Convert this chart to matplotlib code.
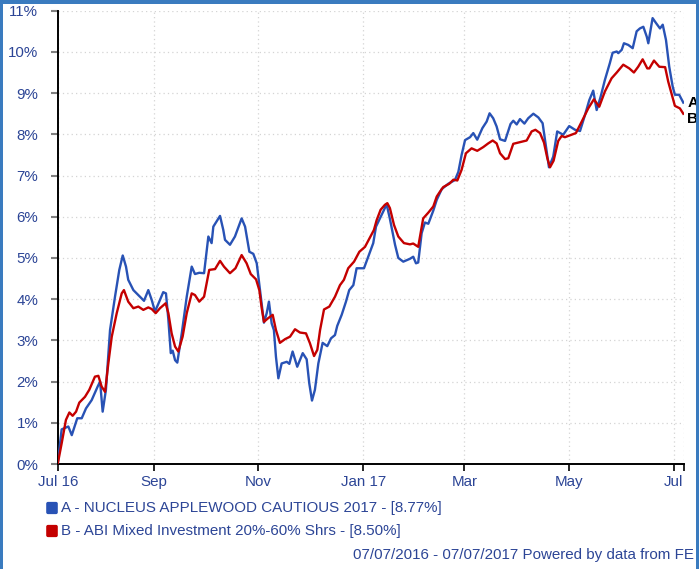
import numpy as np
import matplotlib
matplotlib.use("Agg")
import matplotlib.pyplot as plt
import matplotlib.dates as mdates
from matplotlib.patches import Rectangle, FancyBboxPatch
from datetime import datetime

# ---------------- data ----------------
start_date = datetime(2016, 7, 7)
end_date = datetime(2017, 7, 7)

# days since start date, cumulative performance (%)
a_days = [0, 2.3, 6.2, 8.2, 11.4, 14.0, 16.5, 19.8, 23.3, 24.7, 26.2, 28.1, 30.5, 33.4, 35.9,
          37.9, 39.8, 41.1, 44.1, 47.0, 50.3, 52.8, 54.8, 56.7, 59.2, 61.5, 63.1, 64.5, 65.9,
          67.0, 68.4, 69.7, 72.3, 75.2, 78.1, 80.0, 82.5, 85.3, 87.8, 89.7, 90.7, 94.6, 96.5,
          97.5, 100.4, 103.3, 107.2, 109.2, 111.7, 114.0, 116.0, 117.9, 120.2, 121.8, 123.1,
          124.7, 126.0, 127.2, 128.6, 130.5, 133.5, 135.0, 136.9, 139.6, 142.8, 145.1, 146.6,
          148.2, 149.9, 151.9, 154.4, 157.1, 159.3, 161.6, 162.9, 165.5, 168.0, 169.9, 172.3,
          174.2, 178.5, 181.0, 183.9, 185.5, 187.8, 191.7, 193.6, 196.6, 198.5, 201.4, 205.3,
          207.2, 208.8, 210.1, 212.1, 214.0, 216.0, 218.9, 220.9, 223.8, 227.6, 231.5, 233.5,
          235.4, 237.4, 240.3, 242.2, 244.5, 247.5, 250.0, 251.7, 253.8, 255.8, 257.8, 260.7,
          263.9, 265.5, 267.5, 269.4, 272.0, 274.2, 277.2, 280.1, 282.6, 284.0, 286.3, 288.8,
          291.1, 294.6, 298.1, 301.5, 304.4, 307.3, 309.8, 312.1, 314.1, 316.4, 318.9, 321.8,
          323.4, 325.8, 326.7, 328.7, 330.0, 332.5, 335.1, 337.4, 339.3, 341.3, 343.3, 344.2,
          345.8, 346.7, 348.7, 351.0, 352.6, 354.5, 356.4, 358.4, 359.7, 362.2, 364.6]
a_vals = [0.00, 0.84, 0.91, 0.70, 1.11, 1.11, 1.35, 1.55, 1.88, 2.00, 1.27, 1.80, 3.25, 4.06, 4.71,
          5.06, 4.79, 4.47, 4.22, 4.10, 3.96, 4.22, 3.98, 3.70, 3.94, 4.17, 4.14, 3.50, 2.69,
          2.75, 2.52, 2.46, 3.17, 4.06, 4.79, 4.61, 4.64, 4.63, 5.52, 5.36, 5.76, 6.02, 5.68,
          5.44, 5.32, 5.52, 5.96, 5.76, 5.15, 5.10, 4.87, 4.22, 3.43, 3.66, 3.94,
          3.41, 3.25, 2.60, 2.08, 2.44, 2.48, 2.43, 2.73, 2.36, 2.69, 2.54, 1.96,
          1.54, 1.80, 2.44, 2.94, 2.86, 3.05, 3.13, 3.35, 3.62, 3.94, 4.22, 4.34,
          4.75, 4.75, 5.03, 5.36, 5.76, 5.96, 6.30, 5.95, 5.32, 5.00, 4.91, 4.98,
          5.03, 4.87, 4.89, 5.60, 5.86, 5.83, 6.15, 6.41, 6.67, 6.80, 6.89, 7.09,
          7.50, 7.86, 7.93, 8.03, 7.87, 8.15, 8.31, 8.51, 8.39, 8.19, 7.88, 7.84,
          8.25, 8.33, 8.24, 8.37, 8.26, 8.39, 8.50, 8.41, 8.27, 7.86, 7.20, 7.46,
          8.07, 7.99, 8.20, 8.11, 8.08, 8.47, 8.83, 9.06, 8.59, 8.91, 9.32, 9.73,
          9.98, 10.01, 9.97, 10.05, 10.21, 10.17, 10.09, 10.50, 10.57, 10.61, 10.37, 10.21,
          10.61, 10.82, 10.70, 10.57, 10.66, 10.29, 9.64, 9.16, 8.96, 8.96, 8.77]

b_days = [0, 2.3, 4.8, 6.8, 8.7, 10.7, 12.6, 15.9, 18.4, 21.7, 23.7, 25.6, 27.6, 29.5, 31.5,
          34.4, 37.3, 38.6, 41.1, 44.1, 47.0, 49.9, 52.8, 54.8, 57.1, 59.6, 62.9, 64.5, 66.4,
          68.4, 70.3, 72.8, 75.2, 78.1, 80.0, 82.5, 85.3, 88.3, 91.7, 94.6, 96.9, 100.4, 103.6,
          107.2, 110.1, 112.5, 115.6, 117.5, 118.9, 120.2, 122.7, 125.3, 127.2, 129.5, 132.5,
          135.4, 138.3, 141.2, 144.7, 147.0, 149.4, 151.3, 152.9, 155.2, 158.3, 161.6, 164.5,
          166.8, 169.3, 172.7, 175.8, 179.1, 182.0, 184.3, 185.9, 188.2, 190.7, 192.1, 193.6,
          196.0, 198.5, 201.8, 205.3, 207.2, 210.1, 213.0, 216.0, 218.9, 220.9, 222.8, 224.7,
          228.2, 230.6, 232.9, 235.4, 237.9, 241.2, 244.5, 248.0, 250.9, 253.5, 255.8, 257.8,
          260.7, 262.6, 265.5, 269.4, 273.3, 276.2, 278.4, 281.1, 283.4, 285.3, 286.9, 289.0,
          291.7, 293.7, 295.6, 299.5, 302.0, 305.4, 309.2, 312.5, 315.6, 318.9, 322.8, 325.8,
          329.6, 333.1, 335.8, 338.3, 340.9, 343.6, 344.8, 347.5, 350.6, 354.0, 355.8, 358.4,
          359.7, 362.6, 364.6]
b_vals = [0.00, 0.50, 1.07, 1.25, 1.17, 1.27, 1.49, 1.63, 1.80, 2.12, 2.14, 1.88, 1.75, 2.44, 3.09,
          3.66, 4.14, 4.22, 3.94, 3.78, 3.82, 3.74, 3.80, 3.76, 3.66, 3.78, 3.90, 3.66, 3.17,
          2.85, 2.73, 3.09, 3.66, 4.14, 4.10, 3.94, 4.06, 4.71, 4.73, 4.93, 4.79, 4.63, 4.75,
          5.07, 4.87, 4.61, 4.48, 4.22, 3.78, 3.45, 3.54, 3.62, 3.25, 2.94, 3.03,
          3.09, 3.27, 3.19, 3.17, 2.93, 2.62, 2.77, 3.25, 3.75, 3.82, 4.06, 4.34,
          4.47, 4.75, 4.91, 5.15, 5.27, 5.50, 5.68, 5.92, 6.17, 6.29, 6.33, 6.21,
          5.80, 5.52, 5.36, 5.33, 5.35, 5.27, 5.96, 6.10, 6.25, 6.49, 6.61, 6.72,
          6.80, 6.90, 6.88, 7.14, 7.54, 7.66, 7.60, 7.69, 7.78, 7.85, 7.78, 7.54,
          7.40, 7.42, 7.77, 7.81, 7.85, 8.07, 8.11, 8.03, 7.80, 7.43, 7.20, 7.36,
          7.84, 7.96, 7.93, 7.99, 8.03, 8.31, 8.63, 8.85, 8.67, 9.04, 9.36, 9.50,
          9.69, 9.60, 9.50, 9.64, 9.82, 9.60, 9.60, 9.79, 9.64, 9.63, 9.28, 8.88,
          8.69, 8.63, 8.50]

series_names = ["A - NUCLEUS APPLEWOOD CAUTIOUS 2017 - [8.77%]",
                "B - ABI Mixed Investment 20%-60% Shrs - [8.50%]"]
end_labels = ["A", "B"]
x_tick_dates = [datetime(2016, 7, 7), datetime(2016, 9, 1), datetime(2016, 11, 1),
                datetime(2017, 1, 1), datetime(2017, 3, 1), datetime(2017, 5, 1),
                datetime(2017, 7, 1), datetime(2017, 7, 7)]
x_tick_labels = ["Jul 16", "Sep", "Nov", "Jan 17", "Mar", "May", "Jul", ""]
y_ticks = list(range(0, 12))
footer = "07/07/2016 - 07/07/2017 Powered by data from FE"

# ---------------- style ----------------
plt.rcParams['font.family'] = ['Liberation Sans', 'DejaVu Sans']
BLUE = '#2852b5'
RED = '#c40000'
TXT = '#2c4596'
FS = 10.9

W, H = 699, 569
fig = plt.figure(figsize=(W / 100, H / 100), dpi=100)
ax_l, ax_r, ax_t, ax_b = 57.7, 684.0, 10.7, 464.0
ax = fig.add_axes([ax_l / W, 1 - ax_b / H, (ax_r - ax_l) / W, (ax_b - ax_t) / H])

x0 = mdates.date2num(start_date)
xa = x0 + np.array(a_days)
xb = x0 + np.array(b_days)

ax.plot(xa, a_vals, color=BLUE, lw=1.7, solid_joinstyle='round', zorder=3)
ax.plot(xb, b_vals, color=RED, lw=1.7, solid_joinstyle='round', zorder=4)

ax.set_xlim(mdates.date2num(start_date), mdates.date2num(end_date))
ax.set_ylim(0, 11)

ax.set_yticks(y_ticks)
ax.set_yticklabels([f"{v}%" for v in y_ticks])
ax.set_xticks(mdates.date2num(x_tick_dates))
ax.set_xticklabels(x_tick_labels)

ax.tick_params(axis='y', colors='#808080', length=5, width=1.5, pad=9, labelsize=FS, labelcolor=TXT)
ax.tick_params(axis='x', colors='black', length=5, width=1.2, pad=3, labelsize=FS, labelcolor=TXT)

for s in ['top', 'right']:
    ax.spines[s].set_visible(False)
for s in ['left', 'bottom']:
    ax.spines[s].set_color('black')
    ax.spines[s].set_linewidth(1.4)

ax.grid(True, color='#d4d4d4', linestyle=(0, (1, 2.5)), linewidth=0.9)
ax.set_axisbelow(True)

# end labels
ax.text(1.005, a_vals[-1], end_labels[0], transform=ax.get_yaxis_transform(),
        fontsize=11, fontweight='bold', color='black', va='center', ha='left', clip_on=False)
ax.text(1.005, b_vals[-1] - 0.12, end_labels[1], transform=ax.get_yaxis_transform(),
        fontsize=11, fontweight='bold', color='black', va='center', ha='left', clip_on=False)

# legend (manual)
for i, (name, col) in enumerate(zip(series_names, [BLUE, RED])):
    yc = 508 + i * 23
    fig.patches.append(FancyBboxPatch((47.5 / W, 1 - (yc + 5) / H), 9 / W, 10 / H,
                                      boxstyle="round,pad=0.001,rounding_size=0.002",
                                      transform=fig.transFigure, facecolor=col,
                                      edgecolor=col, lw=0.8))
    fig.text(61 / W, 1 - yc / H, name, fontsize=FS, color=TXT, ha='left', va='center')

fig.text(694 / W, 1 - 555 / H, footer, fontsize=FS, color=TXT, ha='right', va='center')

# border
BORDER = '#3a7bbf'
fig.patches.append(Rectangle((0, 1 - 4 / H), 1, 4 / H, transform=fig.transFigure,
                             facecolor=BORDER, edgecolor='none'))
fig.patches.append(Rectangle((0, 0), 3 / W, 1, transform=fig.transFigure,
                             facecolor=BORDER, edgecolor='none'))
fig.patches.append(Rectangle((1 - 3 / W, 0), 3 / W, 1, transform=fig.transFigure,
                             facecolor=BORDER, edgecolor='none'))

fig.savefig('out.png', dpi=100)
